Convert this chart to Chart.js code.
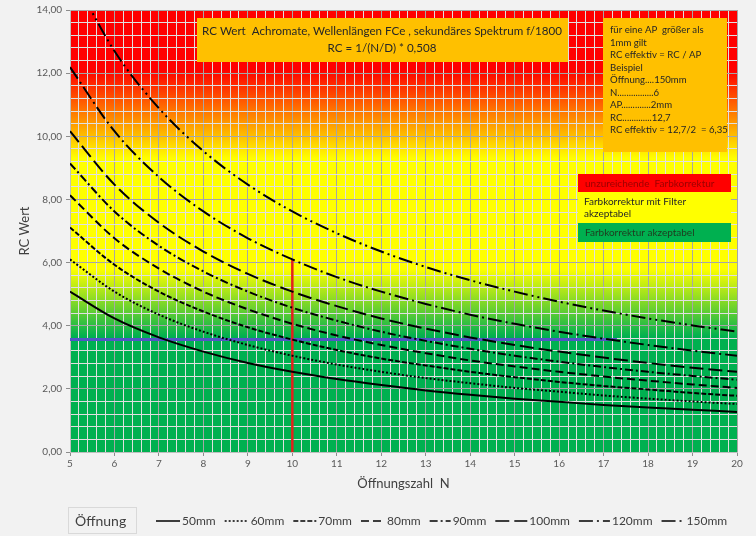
<!DOCTYPE html>
<html>
<head>
<meta charset="utf-8">
<script src="https://cdn.jsdelivr.net/npm/chart.js@4.4.1/dist/chart.umd.min.js"></script>
<style>
  body { margin: 0; background: #f2f2f2; }
  #wrap { width: 756px; height: 536px; }
</style>
</head>
<body>
<div id="wrap"><canvas id="chart" width="756" height="536"></canvas></div>
<script>
// Öffnungszahl N (x axis)
const fNumbers = [5, 6, 7, 8, 9, 10, 11, 12, 13, 14, 15, 16, 17, 18, 19, 20];

// apertures shown in the legend
const apertures = ['50mm', '60mm', '70mm', '80mm', '90mm', '100mm', '120mm', '150mm'];

// RC values
const rc50  = [5.08, 4.23, 3.63, 3.18, 2.82, 2.54, 2.31, 2.12, 1.95, 1.81, 1.69, 1.59, 1.49, 1.41, 1.34, 1.27];
const rc60  = [6.10, 5.08, 4.35, 3.81, 3.39, 3.05, 2.77, 2.54, 2.34, 2.18, 2.03, 1.91, 1.79, 1.69, 1.60, 1.52];
const rc70  = [7.11, 5.93, 5.08, 4.45, 3.95, 3.56, 3.23, 2.96, 2.74, 2.54, 2.37, 2.22, 2.09, 1.98, 1.87, 1.78];
const rc80  = [8.13, 6.77, 5.81, 5.08, 4.52, 4.06, 3.69, 3.39, 3.13, 2.90, 2.71, 2.54, 2.39, 2.26, 2.14, 2.03];
const rc90  = [9.14, 7.62, 6.53, 5.72, 5.08, 4.57, 4.16, 3.81, 3.52, 3.27, 3.05, 2.86, 2.69, 2.54, 2.41, 2.29];
const rc100 = [10.16, 8.47, 7.26, 6.35, 5.64, 5.08, 4.62, 4.23, 3.91, 3.63, 3.39, 3.18, 2.99, 2.82, 2.67, 2.54];
const rc120 = [12.19, 10.16, 8.71, 7.62, 6.77, 6.10, 5.54, 5.08, 4.69, 4.35, 4.06, 3.81, 3.59, 3.39, 3.21, 3.05];
const rc150 = [15.24, 12.70, 10.89, 9.53, 8.47, 7.62, 6.93, 6.35, 5.86, 5.44, 5.08, 4.76, 4.48, 4.23, 4.01, 3.81];

// marker lines (red: N = 10, blue: RC limit)
const redLineX = [10, 10];
const redLineY = [0, 6.1];
const blueLineX = [5, 17.3];
const blueLineY = [3.56, 3.56];

// axis ranges
const xMin = 5, xMax = 20, xStep = 0.2;
const yMin = 0, yMax = 14, yStep = 0.4;

const FONT = 'Lato, "Noto Sans", sans-serif';
const curves = [rc50, rc60, rc70, rc80, rc90, rc100, rc120, rc150];
const dashes = [[], [2, 2], [5, 2], [8, 4], [8, 3, 2, 3], [14, 5], [14, 4, 2, 4], [14, 4, 2, 4, 2, 4]];

const isMultiple = (v, m) => Math.abs(v / m - Math.round(v / m)) < 1e-6;

const datasets = curves.map((vals, i) => ({
  label: apertures[i],
  data: vals.map((v, j) => ({ x: fNumbers[j], y: v })),
  borderColor: '#000',
  borderWidth: 2,
  borderDash: dashes[i],
  pointRadius: 0,
  cubicInterpolationMode: 'monotone',
  fill: false
}));

datasets.push({
  label: '',
  data: redLineX.map((x, i) => ({ x: x, y: redLineY[i] })),
  borderColor: '#e3211c',
  borderWidth: 2.5,
  pointRadius: 0
});
datasets.push({
  label: '',
  data: blueLineX.map((x, i) => ({ x: x, y: blueLineY[i] })),
  borderColor: '#5057c4',
  borderWidth: 3,
  pointRadius: 0
});

// red -> yellow -> green background behind the grid
const backgroundPlugin = {
  id: 'zones',
  beforeDraw(chart) {
    const { ctx, chartArea: a, scales: { y } } = chart;
    const top = y.getPixelForValue(yMax), bottom = y.getPixelForValue(yMin);
    const g = ctx.createLinearGradient(0, top, 0, bottom);
    const at = v => (yMax - v) / (yMax - yMin);
    g.addColorStop(0, '#ff0000');
    g.addColorStop(at(12.1), '#ff0000');
    g.addColorStop(at(9.3), '#ffff00');
    g.addColorStop(at(5.8), '#ffff00');
    g.addColorStop(at(3.65), '#00b050');
    g.addColorStop(1, '#00b050');
    ctx.save();
    ctx.fillStyle = g;
    ctx.fillRect(a.left, a.top, a.right - a.left, a.bottom - a.top);
    ctx.restore();
  }
};

function box(ctx, x, y, w, h, fill) {
  ctx.fillStyle = fill;
  ctx.fillRect(x, y, w, h);
}

// text boxes inside the plot
const notesPlugin = {
  id: 'notes',
  afterDatasetsDraw(chart) {
    const ctx = chart.ctx;
    ctx.save();
    ctx.textBaseline = 'middle';

    box(ctx, 197, 18, 371, 44, '#ffc000');
    ctx.fillStyle = '#262626';
    ctx.font = '11.6px ' + FONT;
    ctx.textAlign = 'center';
    ctx.fillText('RC Wert  Achromate, Wellenlängen FCe , sekundäres Spektrum f/1800', 382, 31);
    ctx.fillText('RC = 1/(N/D) * 0,508', 382, 48);

    box(ctx, 603, 18, 124, 134, '#ffc000');
    ctx.fillStyle = '#262626';
    ctx.textAlign = 'left';
    ctx.font = '9.6px ' + FONT;
    const notes = ['für eine AP  größer als', '1mm gilt', 'RC effektiv = RC / AP', 'Beispiel',
      'Öffnung....150mm', 'N................6', 'AP.............2mm', 'RC.............12,7',
      'RC effektiv = 12,7/2  = 6,35'];
    notes.forEach((t, i) => ctx.fillText(t, 610, 30 + i * 12.5));

    box(ctx, 578, 174, 153, 18, '#ff0000');
    box(ctx, 578, 192, 153, 31, '#ffff00');
    box(ctx, 578, 223, 153, 19, '#00b050');
    ctx.font = '10px ' + FONT;
    ctx.fillStyle = '#9a0000';
    ctx.fillText('unzureichende  Farbkorrektur', 585, 184);
    ctx.fillStyle = '#262626';
    ctx.fillText('Farbkorrektur mit Filter', 584, 202);
    ctx.fillText('akzeptabel', 584, 214);
    ctx.fillStyle = '#1f3a1f';
    ctx.fillText('Farbkorrektur akzeptabel', 585, 233);
    ctx.restore();
  }
};

// legend row at the bottom
const legendPlugin = {
  id: 'bottomLegend',
  afterDraw(chart) {
    const ctx = chart.ctx;
    ctx.save();
    ctx.fillStyle = '#f2f2f2';
    ctx.fillRect(68, 507, 68, 26);
    ctx.strokeStyle = '#d9d9d9';
    ctx.lineWidth = 1;
    ctx.strokeRect(68.5, 507.5, 68, 26);
    ctx.fillStyle = '#404040';
    ctx.font = '14px ' + FONT;
    ctx.textBaseline = 'middle';
    ctx.fillText('Öffnung', 75, 521);

    ctx.font = '12px ' + FONT;
    const lens = [24, 24, 23, 24, 21, 32, 31, 23];
    let x = 156;
    chart.data.datasets.slice(0, apertures.length).forEach((ds, i) => {
      const len = lens[i];
      ctx.strokeStyle = '#000';
      ctx.lineWidth = 1.5;
      ctx.setLineDash(ds.borderDash);
      ctx.beginPath();
      ctx.moveTo(x, 521);
      ctx.lineTo(x + len, 521);
      ctx.stroke();
      ctx.setLineDash([]);
      ctx.fillStyle = '#404040';
      ctx.fillText(ds.label, x + len + 2, 521);
      x += len + 2 + ctx.measureText(ds.label).width + 9;
    });
    ctx.restore();
  }
};

const ctx = document.getElementById('chart').getContext('2d');
const chart = new Chart(ctx, {
  type: 'line',
  data: { datasets: datasets },
  options: {
    responsive: false,
    animation: false,
    layout: { padding: { top: 8, right: 19, left: 0, bottom: 0 } },
    plugins: {
      legend: { display: false },
      title: { display: false },
      tooltip: { enabled: false }
    },
    scales: {
      x: {
        type: 'linear',
        min: xMin,
        max: xMax,
        afterFit: s => { s.height = 84; },
        border: { color: '#bfbfbf' },
        grid: {
          color: c => isMultiple(c.tick.value, 1) ? '#a6a6a6' : '#e0e0e0',
          tickColor: c => isMultiple(c.tick.value, 1) ? '#8c8c8c' : 'transparent',
          tickLength: 4
        },
        ticks: {
          stepSize: xStep,
          autoSkip: false,
          maxRotation: 0,
          padding: 2,
          color: '#595959',
          font: { family: FONT, size: 10 },
          callback: v => isMultiple(v, 1) ? String(Math.round(v)) : ''
        },
        title: {
          display: true,
          text: 'Öffnungszahl  N',
          color: '#404040',
          font: { family: FONT, size: 13 },
          padding: { top: 0, bottom: 44 }
        }
      },
      y: {
        min: yMin,
        max: yMax,
        afterFit: s => { s.width = 70; },
        border: { color: '#bfbfbf' },
        grid: {
          color: c => isMultiple(c.tick.value, 2) ? '#a6a6a6' : '#e0e0e0',
          tickColor: c => isMultiple(c.tick.value, 2) ? '#8c8c8c' : 'transparent',
          tickLength: 4
        },
        ticks: {
          stepSize: yStep,
          autoSkip: false,
          padding: 4,
          color: '#595959',
          font: { family: FONT, size: 10 },
          callback: v => isMultiple(v, 2) ? v.toFixed(2).replace('.', ',') : ''
        },
        title: {
          display: true,
          text: 'RC Wert',
          color: '#404040',
          font: { family: FONT, size: 13 },
          padding: { top: 17, bottom: 0 }
        }
      }
    }
  },
  plugins: [backgroundPlugin, notesPlugin, legendPlugin]
});
</script>
</body>
</html>
